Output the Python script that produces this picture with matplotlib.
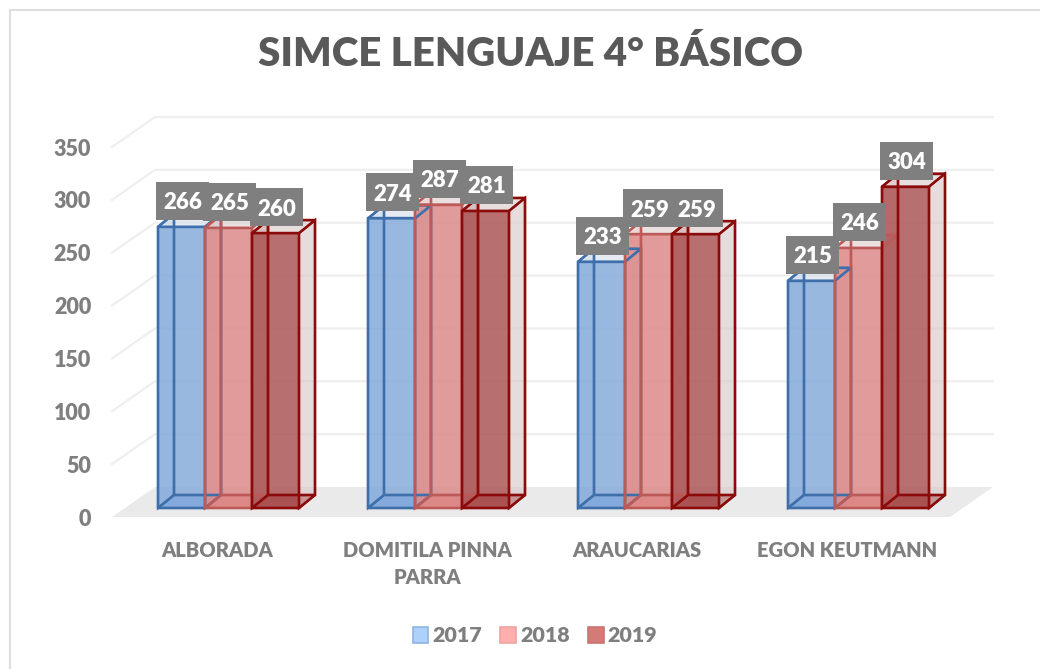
import matplotlib
matplotlib.use('Agg')
import matplotlib.pyplot as plt
from matplotlib.patches import Polygon, Rectangle
from matplotlib.lines import Line2D

categories = ['ALBORADA', 'DOMITILA PINNA\nPARRA', 'ARAUCARIAS', 'EGON KEUTMANN']
years = ['2017', '2018', '2019']
values_2017 = [266, 274, 233, 215]
values_2018 = [265, 287, 259, 246]
values_2019 = [260, 281, 259, 304]
y_ticks = [0, 50, 100, 150, 200, 250, 300, 350]

series = [values_2017, values_2018, values_2019]
face_colors = ['#7FA8DA', '#DC8483', '#A84C4C']
edge_colors = ['#3F6FAA', '#BC5A58', '#8B0A0A']
side_colors = ['#D5DCEB', '#DCCBCB', '#D9C8C8']
legend_faces = ['#AED1FB', '#FFB0AE', '#D67A78']
legend_edges = ['#8FB4E0', '#EFA3A1', '#C87472']

W, H = 1040, 669
plt.rcParams['font.family'] = ['Lato', 'DejaVu Sans']
plt.rcParams['font.weight'] = 'heavy'

fig = plt.figure(figsize=(W / 100, H / 100), dpi=100)

# chart border, only left and top are inside the picture
fig.add_artist(Line2D([10 / W, 10 / W, 1], [0, 1 - 10 / H, 1 - 10 / H], transform=fig.transFigure,
                      color='#DEDEDE', lw=1.5, solid_joinstyle='miter'))

# axes spans the front edge of the 3d floor
left, right, y0, y350 = 112, 952, 517, 147
ax = fig.add_axes([left / W, 1 - y0 / H, (right - left) / W, (y0 - y350) / H])
ax.set_xlim(-0.5, 3.5)
ax.set_ylim(0, 350)
ax.patch.set_alpha(0)
for s in ax.spines.values():
    s.set_visible(False)

# pixel sizes in data units
px = 4 / (right - left)
py = 350 / (y0 - y350)

# depth of the walls and of the bars
wall_dx, wall_dy = 43 * px, 30 * py
bar_dx, bar_dy = 16 * px, 13 * py
bar_w = 47 * px
front_shift = -59 * px
base = 9 * py
floor_end = 3.5 - 2 * px

# floor
ax.add_patch(Polygon([(-0.5, 0), (floor_end, 0), (floor_end + wall_dx, wall_dy), (-0.5 + wall_dx, wall_dy)],
                     fc='#EAEAEA', ec='none', clip_on=False, zorder=1))
# gridlines on side and back wall
for t in y_ticks[1:]:
    ax.plot([-0.5, -0.5 + wall_dx, floor_end + wall_dx], [t, t + wall_dy, t + wall_dy], color='#EFEFEF', lw=1.6,
            clip_on=False, zorder=1, solid_joinstyle='miter')

z = 2
for i, vals in enumerate(series):
    for j, v in enumerate(vals):
        x0 = j + front_shift + i * bar_w
        x1 = x0 + bar_w
        top = v + base
        fc, ec, sc = face_colors[i], edge_colors[i], side_colors[i]
        faces = [
            # back, floor
            ([(x0 + bar_dx, base + bar_dy), (x1 + bar_dx, base + bar_dy), (x1 + bar_dx, top + bar_dy), (x0 + bar_dx, top + bar_dy)], sc, 0.3),
            ([(x0, base), (x1, base), (x1 + bar_dx, base + bar_dy), (x0 + bar_dx, base + bar_dy)], fc, 0.8),
            # left side
            ([(x0, base), (x0 + bar_dx, base + bar_dy), (x0 + bar_dx, top + bar_dy), (x0, top)], fc, 0.25),
            # right side and top
            ([(x1, base), (x1 + bar_dx, base + bar_dy), (x1 + bar_dx, top + bar_dy), (x1, top)], sc, 0.45),
            ([(x0, top), (x1, top), (x1 + bar_dx, top + bar_dy), (x0 + bar_dx, top + bar_dy)], sc, 0.4),
            # front
            ([(x0, base), (x1, base), (x1, top), (x0, top)], fc, 0.78),
        ]
        for pts, c, a in faces:
            ax.add_patch(Polygon(pts, fc=c, alpha=a, ec='none', clip_on=False, zorder=z))
            ax.add_patch(Polygon(pts, fill=False, ec=ec, lw=1.7, clip_on=False, zorder=z + 0.1))

# value labels on top of everything
box_w, box_h = 53 * px, 38 * py
for i, vals in enumerate(series):
    for j, v in enumerate(vals):
        cx = j + front_shift + (i + 0.5) * bar_w + 1 * px
        cy = v + base + 26 * py
        ax.add_patch(Rectangle((cx - box_w / 2, cy - box_h / 2), box_w, box_h, fc='#7F7F7F', ec='none',
                               clip_on=False, zorder=10 + i))
        ax.text(cx, cy, str(v), color='white', fontsize=16, ha='center', va='center_baseline',
                zorder=10.5 + i, fontweight='heavy')

ax.set_xticks(range(len(categories)))
ax.set_xticklabels(categories, color='#7F7F7F', fontsize=14.5, fontweight='heavy', linespacing=1.5, va='top')
ax.set_yticks(y_ticks)
ax.set_yticklabels(y_ticks, color='#7F7F7F', fontsize=15.5, fontweight='heavy')
ax.tick_params(axis='both', length=0)
ax.tick_params(axis='x', pad=17)
ax.tick_params(axis='y', pad=15)

fig.text(530 / W, 1 - 54 / H, 'SIMCE LENGUAJE 4° BÁSICO', color='#595959', fontsize=29, fontweight='heavy',
         ha='center', va='center')

handles = [Rectangle((0, 0), 1, 1, fc=legend_faces[i], ec=legend_edges[i], lw=1.2) for i in range(3)]
fig.legend(handles, years, loc='center', bbox_to_anchor=(535 / W, 1 - 636 / H), ncol=3, frameon=False,
           fontsize=15.4, labelcolor='#7F7F7F', handlelength=0.72, handleheight=0.72, handletextpad=0.2,
           columnspacing=0.86, borderpad=0)

fig.savefig('out.png', dpi=100)
